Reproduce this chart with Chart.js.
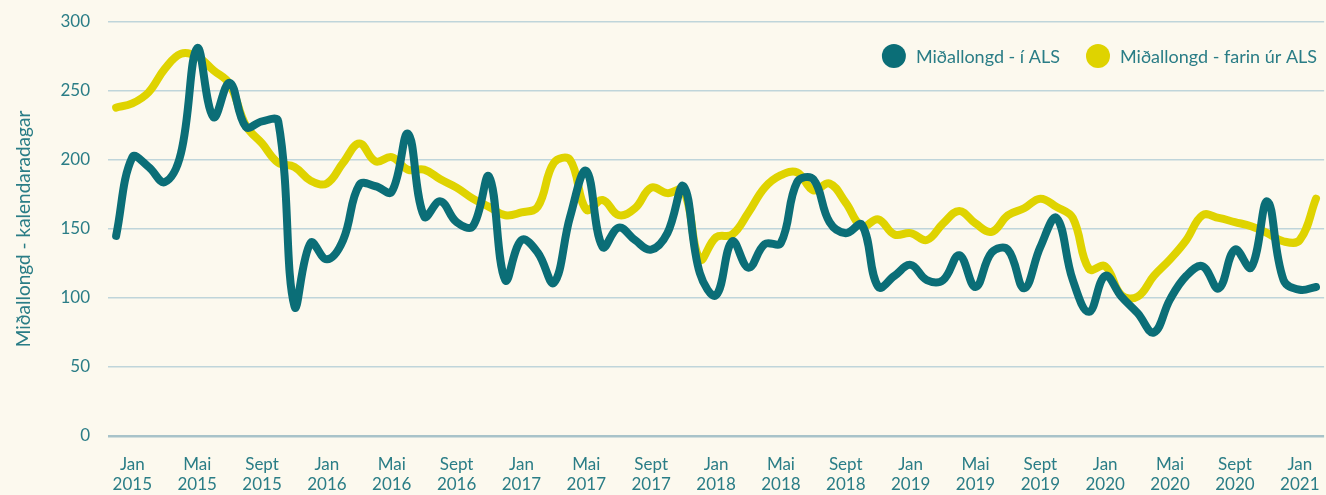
<!DOCTYPE html>
<html lang="is">

<head>
    <meta charset="UTF-8" />
    <meta name="viewport" content="width=device-width, initial-scale=1.0" />
    <title>Miðallongd</title>
    <script src="https://cdn.jsdelivr.net/npm/chart.js"></script>
    <style>
        html, body { margin: 0; padding: 0; background: #fcf9ee; }
        #wrap { width: 1326px; height: 495px; position: relative; }
    </style>
</head>

<body>
    <div id="wrap"><canvas id="chart"></canvas></div>

    <script>
        // months from Des 2014 to Feb 2021
        const months = [
            "Des 2014",
            "Jan 2015", "Feb 2015", "Mar 2015", "Apr 2015", "Mai 2015", "Jun 2015", "Jul 2015", "Aug 2015", "Sept 2015", "Okt 2015", "Nov 2015", "Des 2015",
            "Jan 2016", "Feb 2016", "Mar 2016", "Apr 2016", "Mai 2016", "Jun 2016", "Jul 2016", "Aug 2016", "Sept 2016", "Okt 2016", "Nov 2016", "Des 2016",
            "Jan 2017", "Feb 2017", "Mar 2017", "Apr 2017", "Mai 2017", "Jun 2017", "Jul 2017", "Aug 2017", "Sept 2017", "Okt 2017", "Nov 2017", "Des 2017",
            "Jan 2018", "Feb 2018", "Mar 2018", "Apr 2018", "Mai 2018", "Jun 2018", "Jul 2018", "Aug 2018", "Sept 2018", "Okt 2018", "Nov 2018", "Des 2018",
            "Jan 2019", "Feb 2019", "Mar 2019", "Apr 2019", "Mai 2019", "Jun 2019", "Jul 2019", "Aug 2019", "Sept 2019", "Okt 2019", "Nov 2019", "Des 2019",
            "Jan 2020", "Feb 2020", "Mar 2020", "Apr 2020", "Mai 2020", "Jun 2020", "Jul 2020", "Aug 2020", "Sept 2020", "Okt 2020", "Nov 2020", "Des 2020",
            "Jan 2021", "Feb 2021"
        ];

        const shownMonths = ["Jan", "Mai", "Sept"];

        const iAls = [
            145,
            202, 195, 184, 205, 281, 231, 256, 224, 228, 228, 94, 140,
            128, 142, 182, 181, 177, 219, 159, 170, 155, 152, 188, 113,
            142, 133, 111, 159, 192, 137, 151, 142, 135, 147, 181, 118,
            102, 141, 122, 139, 140, 184, 186, 155, 147, 153, 108, 116,
            124, 113, 113, 131, 108, 133, 135, 107, 137, 158, 113, 90,
            116, 101, 89, 75, 99, 116, 123, 107, 135, 122, 170, 113,
            106, 108
        ];

        const farinUrAls = [
            238,
            241, 249, 266, 277, 275, 265, 255, 225, 212, 198, 195, 185,
            183, 198, 212, 199, 202, 193, 193, 186, 180, 172, 166, 160,
            162, 166, 198, 200, 164, 171, 160, 165, 180, 176, 178, 128,
            144, 146, 162, 180, 189, 191, 178, 183, 169, 152, 157, 146,
            147, 142, 154, 163, 154, 148, 160, 165, 172, 166, 158, 121,
            123, 102, 101, 116, 128, 142, 160, 158, 155, 152, 147, 141,
            142, 172
        ];

        const yTicks = [0, 50, 100, 150, 200, 250, 300];

        const seriesNames = ["Miðallongd - í ALS", "Miðallongd - farin úr ALS"];
        const seriesColors = ["#0b6e77", "#dfd300"];
        const textColor = "#2a7d86";
        const fontFamily = "Lato, 'Open Sans', sans-serif";

        // legend drawn inside the plot, top right
        const innerLegend = {
            id: "innerLegend",
            afterDraw(chart) {
                const ctx = chart.ctx;
                const area = chart.chartArea;
                ctx.save();
                ctx.font = "18px " + fontFamily;
                ctx.textBaseline = "middle";
                ctx.textAlign = "left";
                let x = area.right - 7;
                const y = 56;
                for (let i = seriesNames.length - 1; i >= 0; i--) {
                    const w = ctx.measureText(seriesNames[i]).width;
                    x -= w;
                    ctx.fillStyle = textColor;
                    ctx.fillText(seriesNames[i], x, y + 1);
                    ctx.beginPath();
                    ctx.arc(x - 22, y, 12, 0, Math.PI * 2);
                    ctx.fillStyle = seriesColors[i];
                    ctx.fill();
                    x -= 22 + 12 + 26;
                }
                ctx.restore();
            }
        };

        new Chart(document.getElementById("chart"), {
            type: "line",
            data: {
                labels: months,
                datasets: [{
                    label: seriesNames[0],
                    data: iAls,
                    borderColor: seriesColors[0],
                    borderWidth: 8,
                    tension: 0.4,
                    pointRadius: 0,
                    borderCapStyle: "round",
                    borderJoinStyle: "round",
                    fill: false
                }, {
                    label: seriesNames[1],
                    data: farinUrAls,
                    borderColor: seriesColors[1],
                    borderWidth: 8,
                    tension: 0.4,
                    pointRadius: 0,
                    borderCapStyle: "round",
                    borderJoinStyle: "round",
                    fill: false
                }]
            },
            options: {
                responsive: true,
                maintainAspectRatio: false,
                animation: false,
                layout: { padding: { top: 22, right: 0, left: 0, bottom: 0 } },
                plugins: {
                    legend: { display: false },
                    tooltip: { enabled: false }
                },
                scales: {
                    x: {
                        offset: true,
                        grid: { display: false },
                        border: { display: false },
                        afterFit(scale) { scale.height = 59; },
                        ticks: {
                            autoSkip: false,
                            maxRotation: 0,
                            minRotation: 0,
                            padding: 10,
                            color: textColor,
                            font: { family: fontFamily, size: 17, lineHeight: 1.2 },
                            callback(value) {
                                const parts = months[value].split(" ");
                                return shownMonths.includes(parts[0]) ? parts : "";
                            }
                        }
                    },
                    y: {
                        min: 0,
                        max: 300,
                        afterFit(scale) { scale.width = 108; },
                        afterBuildTicks(scale) { scale.ticks = yTicks.map(v => ({ value: v })); },
                        border: { display: false },
                        grid: {
                            drawTicks: true,
                            tickLength: 18,
                            tickColor: "rgba(0,0,0,0)",
                            color: ctx => ctx.tick && ctx.tick.value === 0 ? "#a8c3c9" : "#bfd5da",
                            lineWidth: ctx => ctx.tick && ctx.tick.value === 0 ? 2.5 : 1.5
                        },
                        ticks: {
                            padding: 0,
                            color: textColor,
                            font: { family: fontFamily, size: 17 }
                        },
                        title: {
                            display: true,
                            text: "Miðallongd - kalendaradagar",
                            color: textColor,
                            font: { family: fontFamily, size: 19 },
                            padding: { top: 12, bottom: 0 }
                        }
                    }
                }
            },
            plugins: [innerLegend]
        });
    </script>
</body>

</html>
